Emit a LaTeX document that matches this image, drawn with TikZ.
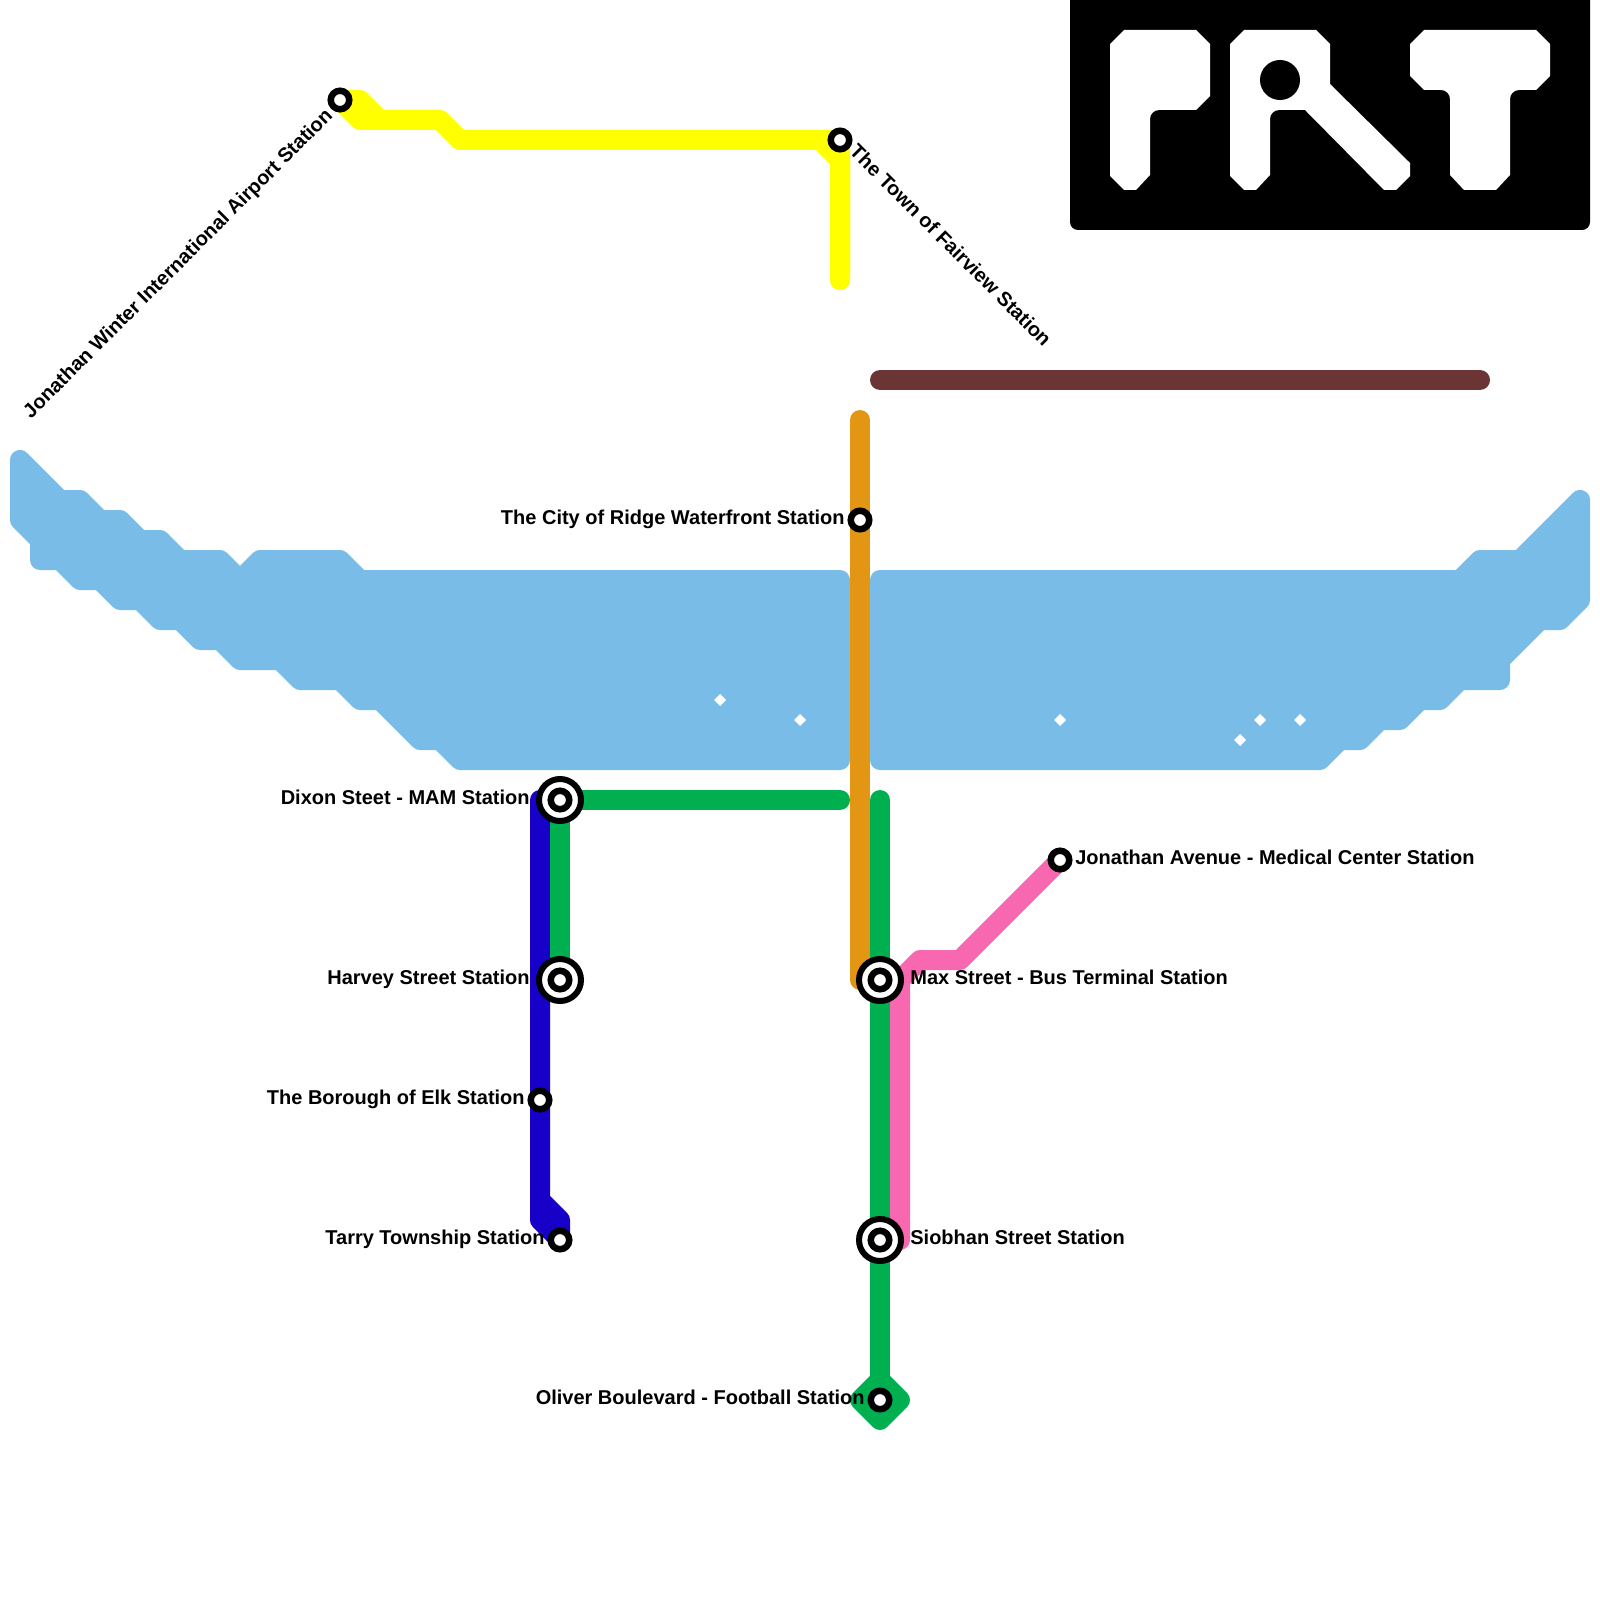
\documentclass[tikz,border=0pt]{standalone}
\usepackage{fontspec}
\setmainfont{Liberation Sans}
\usepackage{xcolor}
\usetikzlibrary{backgrounds}
\definecolor{waterblue}{RGB}{122,188,232}
\definecolor{linegreen}{RGB}{0,176,80}
\definecolor{lineblue}{RGB}{23,0,200}
\definecolor{linepink}{RGB}{247,104,176}
\definecolor{lineorange}{RGB}{227,150,19}
\definecolor{linebrown}{RGB}{107,53,53}
\definecolor{lineyellow}{RGB}{255,255,0}
\tikzset{
    route/.style={line width=4mm, line cap=round, line join=round},
    water/.style={draw=waterblue, fill=waterblue, line width=4mm, line join=round},
    stop/.style={circle, draw=black, fill=white, line width=1.3mm, minimum size=3.7mm, inner sep=0pt, outer sep=0pt},
    hub/.style={circle, draw=black, fill=white, line width=1.2mm, minimum size=8.4mm, inner sep=0pt, outer sep=0pt},
    stationlabel/.style={font=\bfseries\fontsize{11.38pt}{13pt}\selectfont, inner sep=0pt, text height=8.2pt, text depth=2.2pt},
}

\begin{document}
\begin{tikzpicture}[x=0.2mm, y=-0.2mm]
    \useasboundingbox (0,0) rectangle (1600,1600);

    % stations
    \foreach \name/\x/\y in {dixon/560/800, harvey/560/980, maxst/880/980, siobhan/880/1240} {
        \node[hub] (\name) at (\x,\y) {};
        \node[stop] (\name stop) at (\name) {};
    }
    \node[stop] (airport) at (340,100) {};
    \node[stop] (fairview) at (840,140) {};
    \node[stop] (ridge) at (860,520) {};
    \node[stop] (medical) at (1060,860) {};
    \node[stop] (elk) at (540,1100) {};
    \node[stop] (tarry) at (560,1240) {};
    \node[stop] (oliver) at (880,1400) {};

    % labels
    \node[stationlabel, anchor=east, rotate=45] (airportlabel) at (330,113) {Jonathan Winter International Airport Station};
    \node[stationlabel, anchor=west, rotate=-45] (fairviewlabel) at (852,149) {The Town of Fairview Station};
    \node[stationlabel, anchor=east] (ridgelabel) at (845,519.5) {The City of Ridge Waterfront Station};
    \node[stationlabel, anchor=east] (dixonlabel) at (530,799.5) {Dixon Steet - MAM Station};
    \node[stationlabel, anchor=east] (harveylabel) at (530,979.5) {Harvey Street Station};
    \node[stationlabel, anchor=east] (elklabel) at (525,1099.5) {The Borough of Elk Station};
    \node[stationlabel, anchor=east] (tarrylabel) at (545,1239.5) {Tarry Township Station};
    \node[stationlabel, anchor=east] (oliverlabel) at (865,1399.5) {Oliver Boulevard - Football Station};
    \node[stationlabel, anchor=west] (medicallabel) at (1075,859.5) {Jonathan Avenue - Medical Center Station};
    \node[stationlabel, anchor=west] (maxstlabel) at (910,979.5) {Max Street - Bus Terminal Station};
    \node[stationlabel, anchor=west] (siobhanlabel) at (910,1239.5) {Siobhan Street Station};

    \begin{scope}[on background layer]
    % water
    \draw[water] (20,460) -- (60,500) -- (80,500) -- (100,520) -- (120,520) -- (140,540) -- (160,540)
        -- (180,560) -- (220,560) -- (240,580) -- (260,560) -- (340,560) -- (360,580) -- (840,580)
        -- (840,760) -- (460,760) -- (440,740) -- (420,740) -- (380,700) -- (360,700) -- (340,680)
        -- (300,680) -- (280,660) -- (240,660) -- (220,640) -- (200,640) -- (180,620) -- (160,620)
        -- (140,600) -- (120,600) -- (100,580) -- (80,580) -- (60,560) -- (40,560) -- (40,540)
        -- (20,520) -- cycle;
    \draw[water] (880,580) -- (1460,580) -- (1480,560) -- (1520,560) -- (1580,500) -- (1580,600)
        -- (1560,620) -- (1540,620) -- (1500,660) -- (1500,680) -- (1460,680) -- (1440,700)
        -- (1420,700) -- (1400,720) -- (1380,720) -- (1360,740) -- (1340,740) -- (1320,760)
        -- (880,760) -- cycle;
    \foreach \x/\y in {720/700, 800/720, 1060/720, 1240/740, 1260/720, 1300/720} {
        \fill[white] (\x,\y) ++(0,-6) -- ++(6,6) -- ++(-6,6) -- ++(-6,-6) -- cycle;
    }

    % lines
    \draw[route, lineyellow] (airport.center) -- (360,100) -- (380,120) -- (440,120) -- (460,140) -- (fairview.center) -- (840,280);
    \draw[route, lineyellow] (airport.center) -- (360,120) -- (380,120);
    \draw[route, lineyellow] (460,140) -- (820,140) -- (840,160) -- (840,280);
    \draw[route, linebrown] (880,380) -- (1480,380);
    \draw[route, lineorange] (860,420) -- (ridge.center) -- (860,980) -- (maxst.center);
    \draw[route, lineblue] (540,800) -- (elk.center) -- (540,1220) -- (tarry.center) -- (560,1220) -- (540,1200);
    \draw[route, linegreen] (840,800) -- (dixon.center) -- (harvey.center);
    \draw[route, linepink] (medical.center) -- (960,960) -- (920,960) -- (900,980) -- (900,1240);
    \draw[route, linegreen] (880,800) -- (maxst.center) -- (siobhan.center) -- (oliver.center);
    \draw[route, linegreen, fill=linegreen] (880,1380) -- (900,1400) -- (880,1420) -- (860,1400) -- cycle;
    \end{scope}

    % logo
    \fill[black] (1070,0) [rounded corners=1.6mm] -- (1070,230) -- (1590,230) [sharp corners] -- (1590,0) -- cycle;
    \fill[white] (1124,30) -- (1196,30) -- (1210,44) -- (1210,96) -- (1196,110)
        [rounded corners=1.8mm] -- (1150,110) [sharp corners] -- (1150,175) -- (1136,190) -- (1124,190)
        -- (1110,176) -- (1110,44) -- cycle;
    \fill[white] (1244,30) -- (1316,30) -- (1330,44) -- (1330,84) -- (1410,163) -- (1410,176)
        -- (1396,190) -- (1384,190) -- (1305,110) [rounded corners=1.8mm] -- (1270,110) [sharp corners]
        -- (1270,175) -- (1256,190) -- (1244,190) -- (1230,176) -- (1230,44) -- cycle;
    \fill[black] (1280,80) circle (20);
    \fill[white] (1424,30) -- (1536,30) -- (1550,44) -- (1550,76) -- (1536,90)
        [rounded corners=1.8mm] -- (1510,90) [sharp corners] -- (1510,175) -- (1496,190) -- (1464,190)
        -- (1450,175) [rounded corners=1.8mm] -- (1450,90) [sharp corners] -- (1424,90) -- (1410,76)
        -- (1410,44) -- cycle;
\end{tikzpicture}
\end{document}
